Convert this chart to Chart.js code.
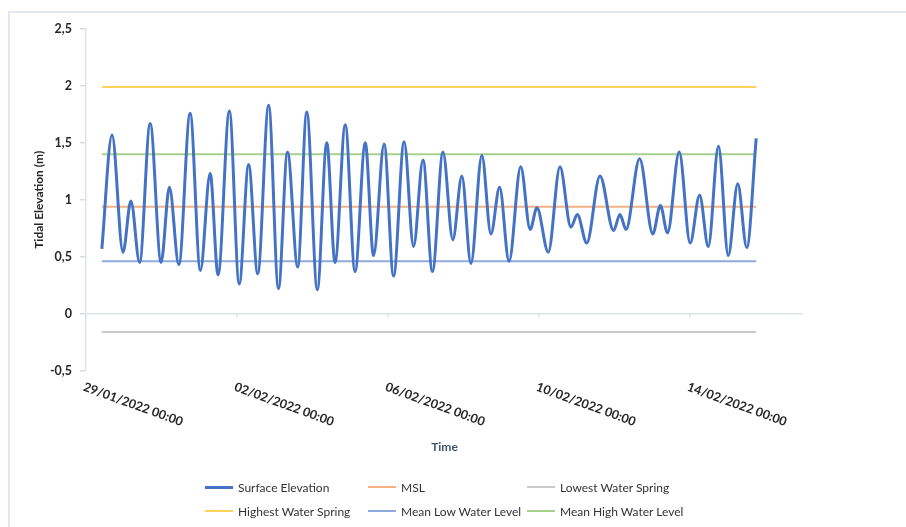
<!DOCTYPE html>
<html>
<head>
<meta charset="utf-8">
<script src="https://cdn.jsdelivr.net/npm/chart.js@4.4.0/dist/chart.umd.min.js"></script>
<style>
  html, body { margin: 0; padding: 0; background: #fff; overflow: hidden; }
  #wrap { position: relative; width: 906px; height: 527px; overflow: hidden; }
  #frame { position: absolute; left: 8px; top: 11px; width: 1000px; height: 600px;
           border-left: 2px solid #e4e7ef; border-top: 2px solid #e4e7ef; }
  canvas { position: absolute; left: 0; top: 0; }
  #legend { position: absolute; left: 205px; top: 478px; display: grid;
            grid-template-columns: 163px 159px auto; row-gap: 6px;
            font: 12px Lato, sans-serif; color: #333; }
  .item { display: flex; align-items: center; height: 18px; white-space: nowrap; }
  .swatch { width: 28px; margin-right: 5px; }
</style>
</head>
<body>
<div id="wrap">
  <div id="frame"></div>
  <canvas id="tideChart" width="906" height="527"></canvas>
  <div id="legend"></div>
</div>
<script>
// Surface elevation (turning points), time in days after 29/01/2022 00:00
const times = [0.42, 0.69, 0.98, 1.19, 1.42, 1.70, 1.99, 2.21, 2.46, 2.76,
  3.03, 3.29, 3.50, 3.80, 4.06, 4.31, 4.55, 4.84, 5.10, 5.34,
  5.61, 5.85, 6.13, 6.38, 6.60, 6.87, 7.13, 7.40, 7.62, 7.90,
  8.15, 8.43, 8.68, 8.93, 9.18, 9.46, 9.72, 9.96, 10.20, 10.49,
  10.73, 10.96, 11.21, 11.52, 11.77, 11.95, 12.25, 12.56, 12.85, 13.02,
  13.27, 13.62, 13.98, 14.15, 14.31, 14.67, 15.02, 15.22, 15.41, 15.72,
  16.01, 16.26, 16.49, 16.76, 17.02, 17.27, 17.51, 17.76];
const elevation = [0.57, 1.57, 0.54, 0.99, 0.45, 1.67, 0.45, 1.11, 0.43, 1.76,
  0.38, 1.23, 0.34, 1.78, 0.26, 1.31, 0.35, 1.83, 0.22, 1.42,
  0.41, 1.77, 0.21, 1.50, 0.45, 1.66, 0.37, 1.50, 0.51, 1.49,
  0.33, 1.51, 0.59, 1.35, 0.37, 1.42, 0.65, 1.21, 0.44, 1.39,
  0.70, 1.11, 0.46, 1.29, 0.74, 0.93, 0.54, 1.29, 0.76, 0.87,
  0.62, 1.21, 0.73, 0.87, 0.74, 1.36, 0.70, 0.95, 0.71, 1.42,
  0.62, 1.04, 0.59, 1.47, 0.51, 1.14, 0.58, 1.54];

// tidal reference levels (m)
const refNames = ['MSL', 'Lowest Water Spring', 'Highest Water Spring', 'Mean Low Water Level', 'Mean High Water Level'];
const refLevels = [0.94, -0.16, 1.99, 0.46, 1.40];
const refColors = ['#f4b183', '#c9c9c9', '#ffd45e', '#8faadc', '#a9d18e'];

// x axis ticks every 4 days
const xTickDays = [0, 4, 8, 12, 16];
const xTickLabels = ['29/01/2022 00:00', '02/02/2022 00:00', '06/02/2022 00:00', '10/02/2022 00:00', '14/02/2022 00:00'];

const tStart = times[0];
const tEnd = times[times.length - 1];

const datasets = [{
  label: 'Surface Elevation',
  data: times.map(function(t, i) { return { x: t, y: elevation[i] }; }),
  borderColor: '#4472c4',
  borderWidth: 3,
  pointRadius: 0,
  cubicInterpolationMode: 'monotone'
}];
refNames.forEach(function(name, i) {
  datasets.push({
    label: name,
    data: [{ x: tStart, y: refLevels[i] }, { x: tEnd, y: refLevels[i] }],
    borderColor: refColors[i],
    borderWidth: 2,
    pointRadius: 0
  });
});

// rotated date labels hanging under the plot, plus small tick marks on the zero line
const xLabelPlugin = {
  id: 'xLabels',
  afterDraw(chart) {
    const { ctx, chartArea, scales: { x, y } } = chart;
    const y0 = y.getPixelForValue(0);
    ctx.save();
    xTickDays.forEach(function(d, i) {
      const px = x.getPixelForValue(d);
      ctx.strokeStyle = '#d3d8e3';
      ctx.lineWidth = 1;
      ctx.beginPath();
      ctx.moveTo(px, y0);
      ctx.lineTo(px, y0 + 4);
      ctx.stroke();

      ctx.save();
      ctx.translate(px, chartArea.bottom + 10);
      ctx.rotate(20 * Math.PI / 180);
      ctx.font = 'bold 12.5px Lato';
      ctx.fillStyle = '#262626';
      ctx.textAlign = 'left';
      ctx.textBaseline = 'top';
      ctx.fillText(xTickLabels[i], 0, 0);
      ctx.restore();
    });
    ctx.restore();
  }
};

const chart = new Chart(document.getElementById('tideChart'), {
  type: 'line',
  data: { datasets: datasets },
  options: {
    responsive: false,
    animation: false,
    devicePixelRatio: 1,
    layout: { padding: { left: 20, top: 29, right: 103, bottom: 73 } },
    plugins: { legend: { display: false }, tooltip: { enabled: false } },
    scales: {
      x: {
        type: 'linear',
        min: 0,
        max: 19,
        grid: { display: false },
        border: { display: false },
        ticks: { display: false },
        title: {
          display: true,
          text: 'Time',
          color: '#44546a',
          font: { family: 'Lato', size: 12, weight: 'bold' },
          padding: { top: 61, bottom: 0 }
        }
      },
      y: {
        min: -0.5,
        max: 2.5,
        afterFit: function(scale) { scale.width = 66; },
        ticks: {
          stepSize: 0.5,
          padding: 8,
          color: '#262626',
          font: { family: 'Lato', size: 12.5, weight: 'bold' },
          callback: function(v) { return String(v).replace('.', ','); }
        },
        grid: {
          color: function(c) { return c.tick && c.tick.value === 0 ? '#dfe3ec' : 'rgba(0,0,0,0)'; },
          tickColor: '#d6dbe6',
          tickLength: 6,
          lineWidth: 1.5
        },
        border: { color: '#dfe3ec', width: 1.5 },
        title: {
          display: true,
          text: 'Tidal Elevation (m)',
          color: '#262626',
          font: { family: 'Lato', size: 12, weight: 'bold' },
          padding: { top: 12, bottom: 0 }
        }
      }
    }
  },
  plugins: [xLabelPlugin]
});

// legend as a 3-column grid, like the original
const legend = document.getElementById('legend');
chart.data.datasets.forEach(function(ds) {
  const item = document.createElement('div');
  item.className = 'item';
  const sw = document.createElement('span');
  sw.className = 'swatch';
  sw.style.height = ds.borderWidth + 'px';
  sw.style.background = ds.borderColor;
  const txt = document.createElement('span');
  txt.textContent = ds.label;
  item.appendChild(sw);
  item.appendChild(txt);
  legend.appendChild(item);
});
</script>
</body>
</html>
